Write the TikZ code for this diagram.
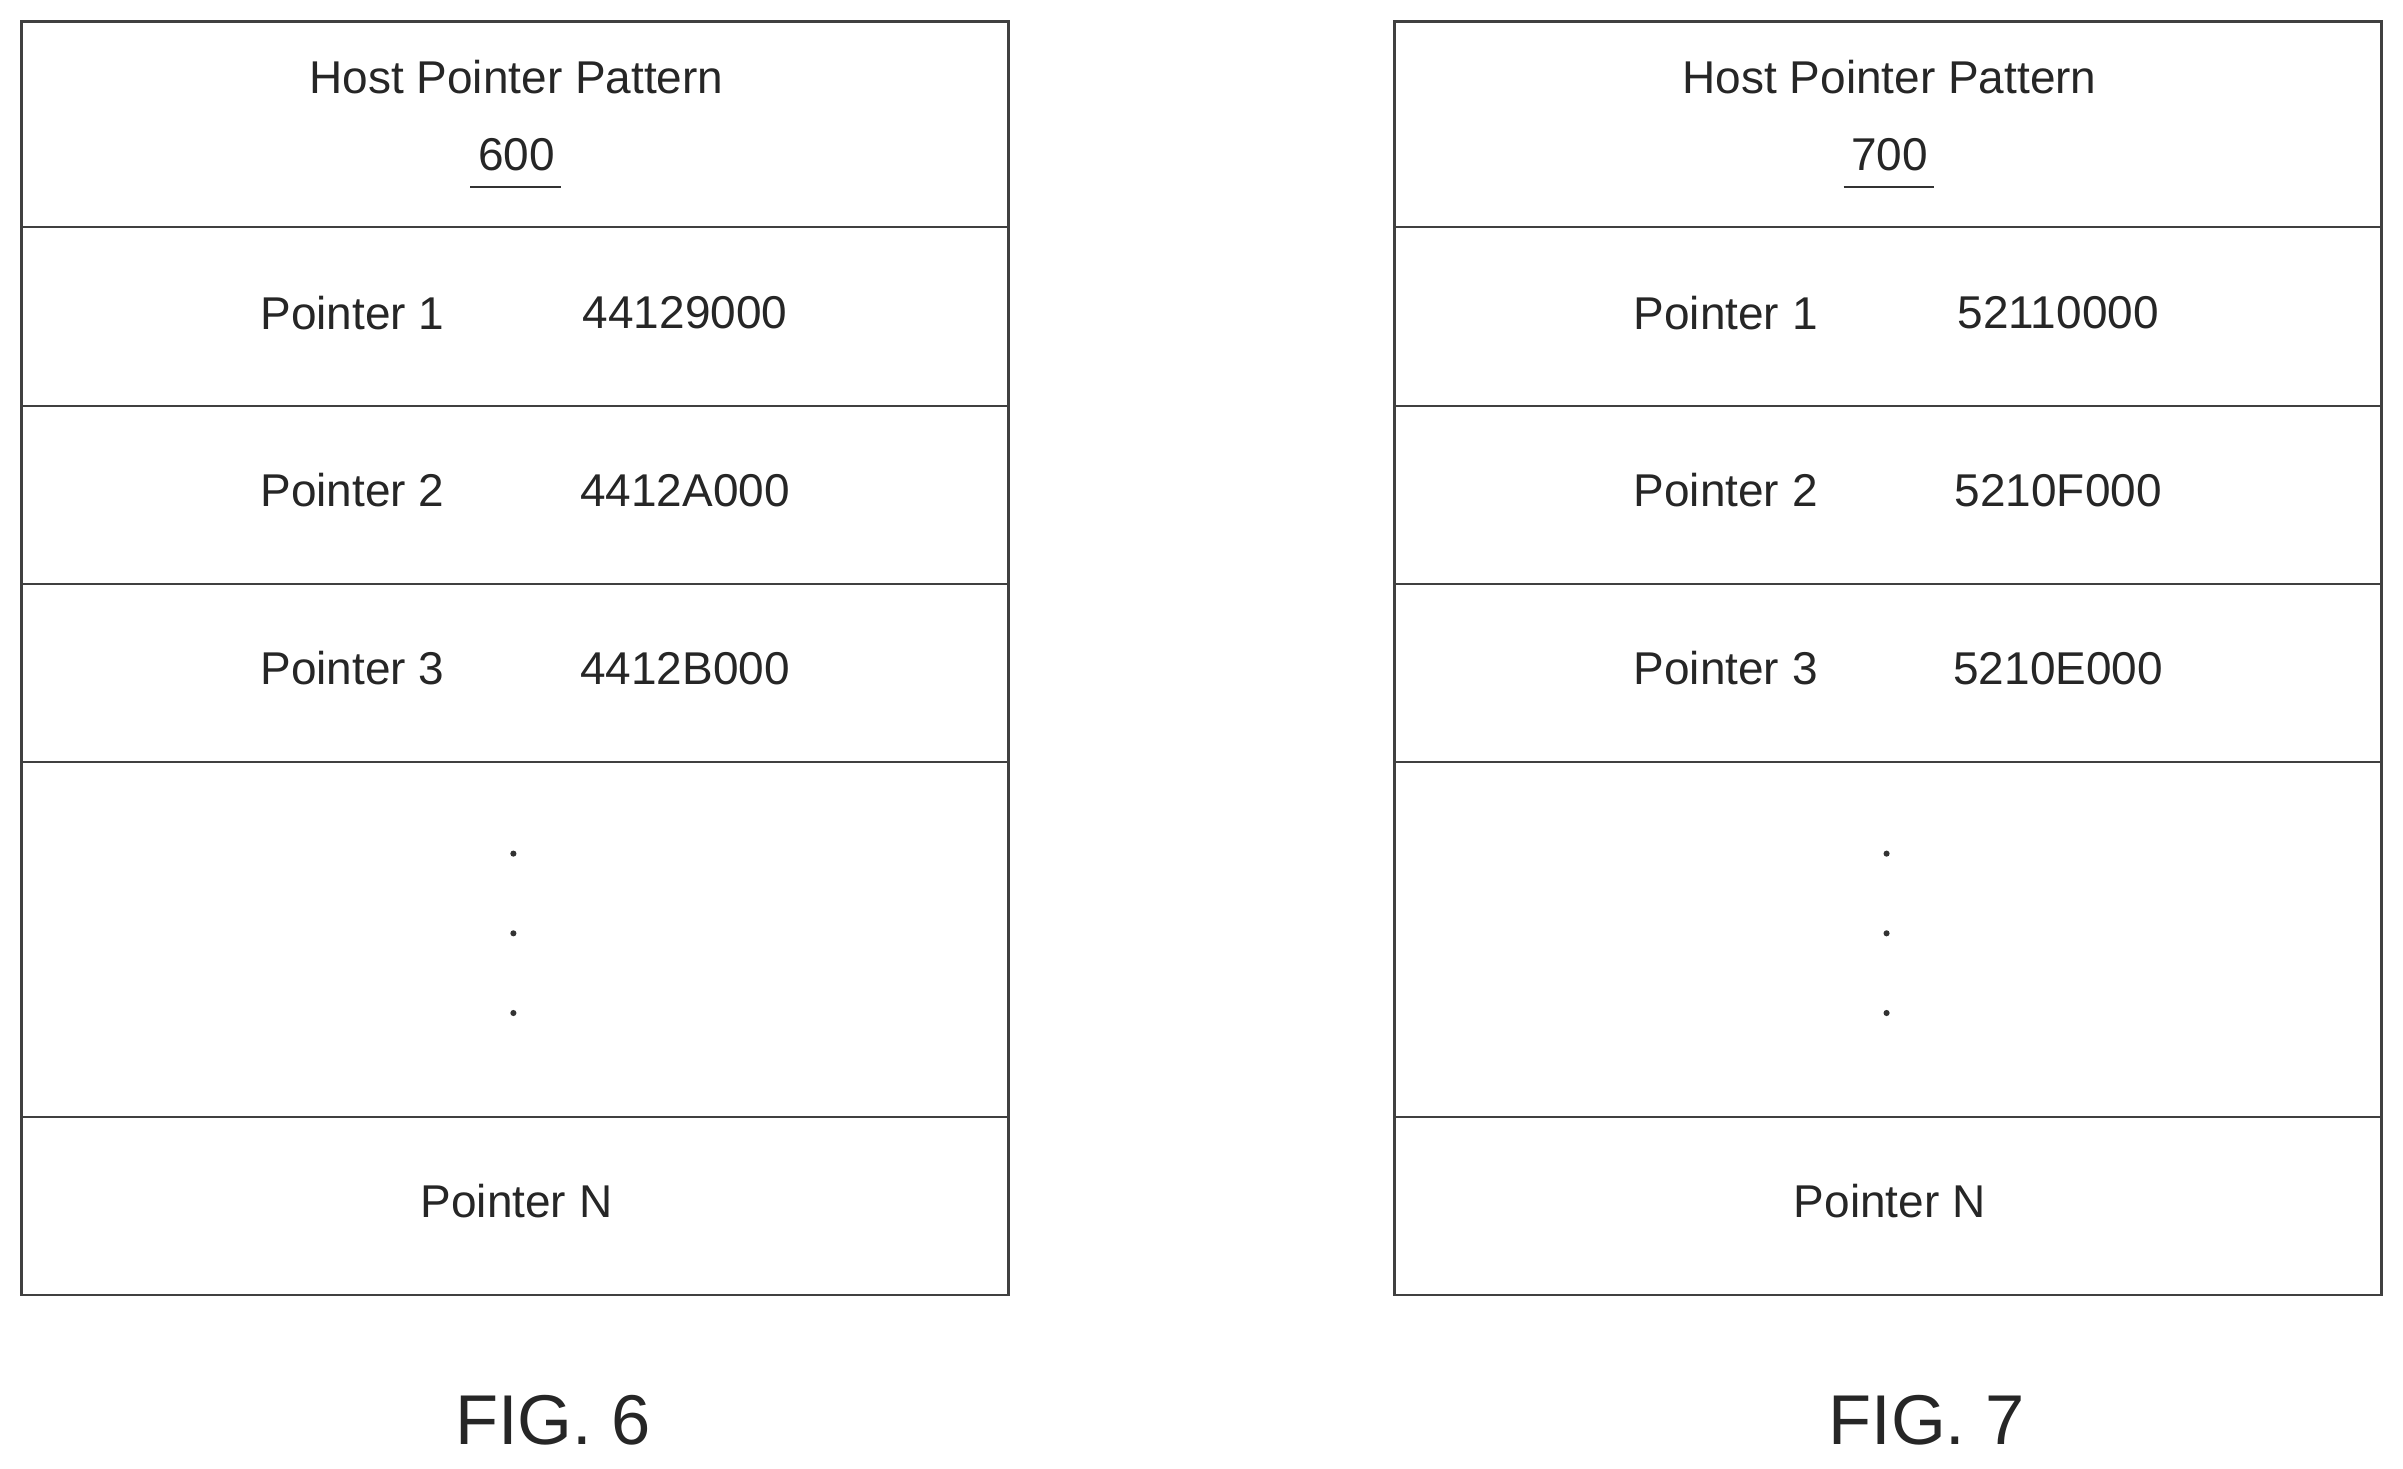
\documentclass[tikz,border=0pt]{standalone}
\usepackage{fontspec}
\setmainfont{Liberation Sans}
\begin{document}
\begin{tikzpicture}[x=1pt,y=-1pt,
  box/.style={draw=black!75,line width=1.6pt},
  sep/.style={draw=black!75,line width=1.4pt},
  txt/.style={font=\fontsize{30}{36}\selectfont,text=black!85,inner sep=0pt},
  fig/.style={font=\fontsize{46}{52}\selectfont,text=black!85,inner sep=0pt},
  dot/.style={fill=black!80,circle,inner sep=0pt,minimum size=4pt}]
\path[use as bounding box] (0,0) rectangle (1568,958);
\foreach \ox/\num/\va/\vb/\vc/\fg in {0/600/44129000/4412A000/4412B000/6, 896/700/52110000/5210F000/5210E000/7}{
  \begin{scope}[xshift=\ox pt]
  \draw[box] (14,14) rectangle (658,845);
  \foreach \yy in {148,265,381,497,729} \draw[sep] (14,\yy) -- (658,\yy);
  \node[txt] (t\num) at (337,50) {Host Pointer Pattern};
  \node[txt] (n\num) at (337,101) {\num};
  \draw[line width=1.5pt,black!80] (307,122) -- (366,122);
  \node[txt] (p1\num) at (230,204) {Pointer 1};
  \node[txt] (v1\num) at (447,204) {\va};
  \node[txt] (p2\num) at (230,320) {Pointer 2};
  \node[txt] (v2\num) at (447,320) {\vb};
  \node[txt] (p3\num) at (230,436) {Pointer 3};
  \node[txt] (v3\num) at (447,436) {\vc};
  \foreach \dy in {557,609,661} \node[dot] at (335,\dy) {};
  \node[txt] (pn\num) at (337,784) {Pointer N};
  \node[fig] (f\num) at (361,927) {FIG. \fg};
  \end{scope}}
\end{tikzpicture}
\end{document}
